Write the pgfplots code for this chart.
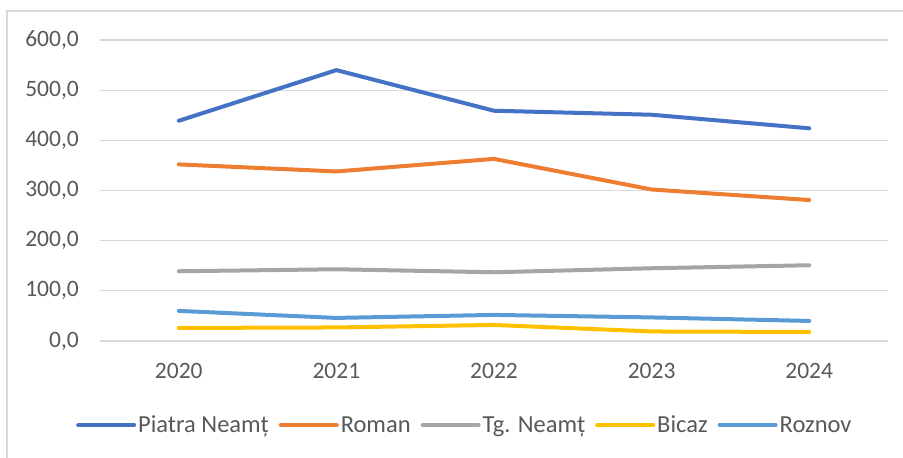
\documentclass[border=0pt]{standalone}
\usepackage{pgfplots}
\pgfplotsset{compat=1.18}
\usepackage{fontspec}
\setmainfont{Carlito}

\definecolor{cBlue}{HTML}{4472C4}
\definecolor{cOrange}{HTML}{ED7D31}
\definecolor{cGray}{HTML}{A5A5A5}
\definecolor{cGold}{HTML}{FFC000}
\definecolor{cSky}{HTML}{5B9BD5}
\definecolor{gridgray}{HTML}{D9D9D9}
\definecolor{labelgray}{HTML}{595959}

\begin{document}
\begin{tikzpicture}[x=1pt,y=1pt]
  \begin{scope}
    \clip (0,0) rectangle (903,458);
    \draw[gridgray, line width=1.3pt] (7,-20) -- (7,447) -- (920,447);
  \end{scope}
  \begin{axis}[
    at={(100pt,117pt)}, anchor=south west,
    scale only axis, width=788pt, height=301pt,
    xmin=-0.5, xmax=4.5, ymin=0, ymax=600,
    xtick={0,1,2,3,4}, xticklabels={2020,2021,2022,2023,2024},
    ytick={0,100,...,600},
    ymajorgrids, grid style={draw=gridgray, line width=1.3pt},
    major tick length=0pt,
    axis line style={draw=none},
    clip=false,
    tick label style={font=\fontsize{23.5}{28}\selectfont, text=labelgray, inner sep=0pt},
    yticklabel style={anchor=east, xshift=-21pt,
      /pgf/number format/fixed, /pgf/number format/fixed zerofill,
      /pgf/number format/precision=1, /pgf/number format/use comma,
      /pgf/number format/assume math mode=true},
    xticklabel style={anchor=north, yshift=-22pt},
    every axis plot/.append style={line width=4pt, line cap=round, line join=round},
    legend columns=5,
    legend style={at={(0.463,-0.279)}, anchor=center, draw=none, fill=none,
      font=\fontsize{24.5}{28}\selectfont, text=labelgray,
      nodes={inner xsep=2pt},
      /tikz/every even column/.append style={column sep=8pt}},
    legend image code/.code={\draw[#1] (0pt,0pt) -- (56pt,0pt);},
  ]
    \addplot[cBlue] coordinates {(0,439) (1,540) (2,459) (3,451) (4,424)};
    \addlegendentry{Piatra Neamț}
    \addplot[cOrange] coordinates {(0,352) (1,338) (2,363) (3,302) (4,281)};
    \addlegendentry{Roman}
    \addplot[cGray] coordinates {(0,139) (1,143) (2,137) (3,145) (4,151)};
    \addlegendentry{Tg. Neamț}
    \addplot[cGold] coordinates {(0,26) (1,27) (2,32) (3,19) (4,18)};
    \addlegendentry{Bicaz}
    \addplot[cSky] coordinates {(0,60) (1,46) (2,52) (3,47) (4,40)};
    \addlegendentry{Roznov}
  \end{axis}
  \pgfresetboundingbox
  \path[use as bounding box] (0,0) rectangle (903,458);
\end{tikzpicture}
\end{document}
